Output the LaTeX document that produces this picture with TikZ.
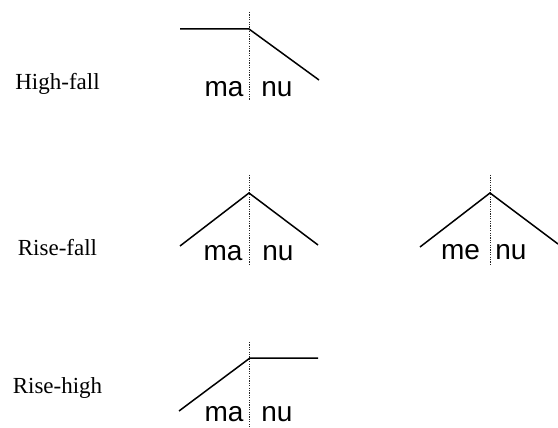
\documentclass[tikz,border=0pt]{standalone}
\usepackage{fontspec}
\setmainfont{Liberation Serif}
\newfontfamily\arialf{Liberation Sans}
\begin{document}
\begin{tikzpicture}[x=1pt,y=-1pt,
  contour/.style={line width=1.5pt,line join=miter},
  divider/.style={line width=1pt,draw=black!85,dash pattern=on 1.2pt off 1.2pt},
  label/.style={font=\fontsize{23}{27}\selectfont,anchor=base,inner sep=0pt},
  syl/.style={font=\arialf\fontsize{28}{32}\selectfont,anchor=base,inner sep=0pt}]
\useasboundingbox (0,0) rectangle (558,428);
% labels
\node[label] (lhf) at (57.5,90) {High-fall};
\node[label] (lrf) at (57.5,255) {Rise-fall};
\node[label] (lrh) at (57.5,393) {Rise-high};
% High-fall
\coordinate (a1) at (180,29);
\coordinate (a2) at (249,29);
\coordinate (a3) at (319,80);
\coordinate (d1t) at (249,12);
\coordinate (d1b) at (249,100);
\draw[divider] (d1t) -- (d1b);
\draw[contour] (a1) -- (a2) -- (a3);
\node[syl] (ma1) at (224,97) {ma};
\node[syl] (nu1) at (277,97) {nu};
% Rise-fall 1
\coordinate (b1) at (180,246);
\coordinate (b2) at (249,193);
\coordinate (b3) at (318,245);
\coordinate (d2t) at (249,175);
\coordinate (d2b) at (249,264);
\draw[divider] (d2t) -- (d2b);
\draw[contour] (b1) -- (b2) -- (b3);
\node[syl] (ma2) at (223,260) {ma};
\node[syl] (nu2) at (278,260) {nu};
% Rise-fall 2
\coordinate (c1) at (420,247);
\coordinate (c2) at (490,193);
\coordinate (c3) at (558,244);
\coordinate (d3t) at (490,175);
\coordinate (d3b) at (490,264);
\draw[divider] (d3t) -- (d3b);
\draw[contour] (c1) -- (c2) -- (c3);
\node[syl] (me3) at (460.5,259) {me};
\node[syl] (nu3) at (511,259) {nu};
% Rise-high
\coordinate (e1) at (179,411);
\coordinate (e2) at (250,358);
\coordinate (e3) at (318,358);
\coordinate (d4t) at (249,342);
\coordinate (d4b) at (249,428);
\draw[divider] (d4t) -- (d4b);
\draw[contour] (e1) -- (e2) -- (e3);
\node[syl] (ma4) at (224,421) {ma};
\node[syl] (nu4) at (277,421) {nu};
\end{tikzpicture}
\end{document}
